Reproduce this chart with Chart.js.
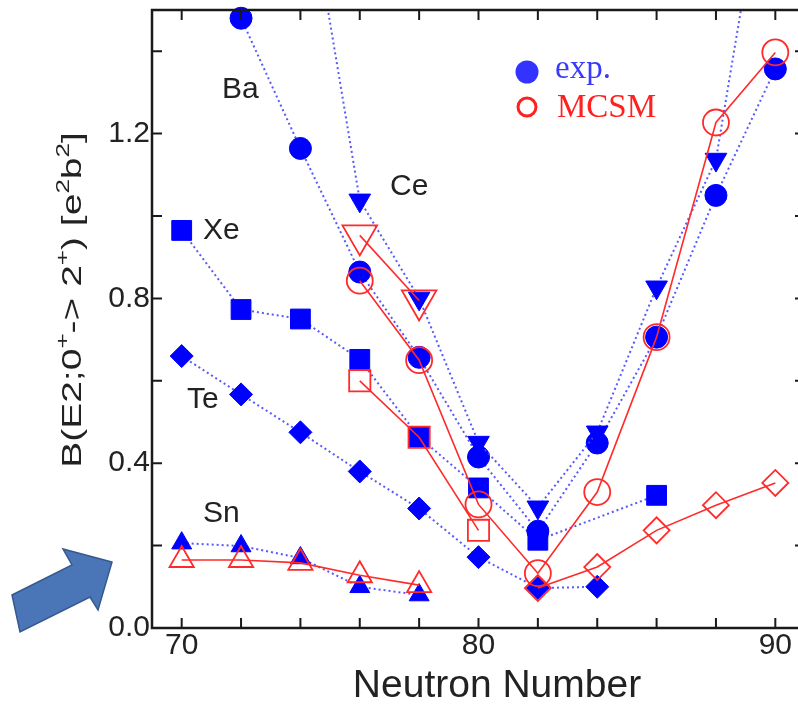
<!DOCTYPE html>
<html>
<head>
<meta charset="utf-8">
<script src="https://cdn.jsdelivr.net/npm/chart.js@4.4.1/dist/chart.umd.min.js"></script>
<style>
  html, body { margin: 0; padding: 0; background: #fff; overflow: hidden; }
  #wrap { width: 798px; height: 704px; overflow: hidden; }
</style>
</head>
<body>
<div id="wrap"><canvas id="be2" width="810" height="704"></canvas></div>
<script>
var neutrons = [70, 72, 74, 76, 78, 80, 82, 84, 86, 88, 90];

// exp. (filled blue symbols)
var snExp = [0.206, 0.199, 0.170, 0.100, 0.080, null, null, null, null, null, null];
var teExp = [0.660, 0.567, 0.475, 0.380, 0.290, 0.172, 0.097, 0.100, null, null, null];
var xeExp = [0.965, 0.773, 0.750, 0.652, 0.463, 0.340, 0.213, null, 0.322, null, null];
var baExp = [null, 1.480, 1.164, 0.864, 0.657, 0.415, 0.235, 0.449, 0.706, 1.050, 1.357];
var ceExp = [null, null, 1.900, 1.038, 0.800, 0.450, 0.293, 0.475, 0.827, 1.137, 2.000];

// MCSM (open red symbols)
var snCalc = [0.165, 0.165, 0.158, 0.128, 0.104, null, null, null, null, null, null];
var teCalc = [null, null, null, null, null, null, 0.097, 0.148, 0.237, 0.298, 0.352];
var xeCalc = [null, null, null, 0.600, 0.463, 0.237, null, null, null, null, null];
var baCalc = [null, null, null, 0.843, 0.650, 0.300, 0.133, 0.330, 0.706, 1.227, 1.397];
var ceCalc = [null, null, null, 0.953, 0.795, null, null, null, null, null, null];

var xTicks = [70, 80, 90];
var yTicks = [0.0, 0.4, 0.8, 1.2];
var xMarks = [70, 72, 74, 76, 78, 80, 82, 84, 86, 88, 90];
var yMarks = [0.0, 0.2, 0.4, 0.6, 0.8, 1.0, 1.2, 1.4];

var elementNames = ["Ba", "Ce", "Xe", "Te", "Sn"];
var elementAt = [[71.36, 1.287], [77.02, 1.05], [70.72, 0.945], [70.18, 0.533], [70.72, 0.257]];

var xTitle = "Neutron Number";
var yTitleParts = [
    {t: "B(E2;0", sup: false}, {t: "+", sup: true}, {t: "-> 2", sup: false}, {t: "+", sup: true},
    {t: ") [e", sup: false}, {t: "2", sup: true}, {t: "b", sup: false}, {t: "2", sup: true}, {t: "]", sup: false}
];

var SANS = '"Liberation Sans", Arial, sans-serif';
var SERIF = '"Liberation Serif", "Times New Roman", serif';

function pts(arr) {
    var out = [];
    for (var i = 0; i < neutrons.length; i++) {
        if (arr[i] !== null) out.push({x: neutrons[i], y: arr[i]});
    }
    return out;
}

function expSet(label, arr, style, r, rot, clip) {
    return {
        label: label, data: pts(arr),
        borderColor: 'rgba(70,70,255,0.9)', borderWidth: 2, borderDash: [2, 3],
        pointStyle: style, pointRadius: r, pointRotation: rot,
        pointBackgroundColor: '#0000ff', pointBorderColor: '#0000ff', pointBorderWidth: 1,
        clip: clip
    };
}

function calcSet(label, arr, style, r, rot) {
    return {
        label: label, data: pts(arr),
        borderColor: '#ff2a2a', borderWidth: 1.6,
        pointStyle: style, pointRadius: r, pointRotation: rot,
        pointBackgroundColor: 'rgba(0,0,0,0)', pointBorderColor: '#ff2a2a', pointBorderWidth: 1.8,
        clip: false
    };
}

var decor = {
    id: 'decor',
    afterDraw: function (chart) {
        var ctx = chart.ctx, a = chart.chartArea;
        var xs = chart.scales.x, ys = chart.scales.y;

        // frame with inward ticks
        ctx.save();
        ctx.strokeStyle = '#1a1a1a';
        ctx.lineWidth = 2.5;
        ctx.strokeRect(a.left, a.top, a.right - a.left, a.bottom - a.top);
        ctx.lineWidth = 2;
        ctx.beginPath();
        xMarks.forEach(function (v) {
            var px = xs.getPixelForValue(v);
            ctx.moveTo(px, a.bottom); ctx.lineTo(px, a.bottom - 10);
            ctx.moveTo(px, a.top); ctx.lineTo(px, a.top + 10);
        });
        yMarks.forEach(function (v) {
            var py = ys.getPixelForValue(v);
            ctx.moveTo(a.left, py); ctx.lineTo(a.left + 10, py);
            ctx.moveTo(a.right, py); ctx.lineTo(a.right - 10, py);
        });
        ctx.stroke();
        ctx.restore();

        // element names
        ctx.save();
        ctx.font = '30px ' + SANS;
        ctx.fillStyle = '#222';
        ctx.textBaseline = 'alphabetic';
        elementNames.forEach(function (n, i) {
            ctx.fillText(n, xs.getPixelForValue(elementAt[i][0]), ys.getPixelForValue(elementAt[i][1]));
        });
        ctx.restore();

        // legend
        ctx.save();
        ctx.fillStyle = '#3333ff';
        ctx.beginPath(); ctx.arc(527, 72, 11.5, 0, Math.PI * 2); ctx.fill();
        ctx.strokeStyle = '#ff2020'; ctx.lineWidth = 3;
        ctx.beginPath(); ctx.arc(527, 107, 9, 0, Math.PI * 2); ctx.stroke();
        ctx.font = '33px ' + SERIF;
        ctx.fillStyle = '#3a3aff';
        ctx.fillText('exp.', 555, 78);
        ctx.fillStyle = '#ff2020';
        ctx.fillText('MCSM', 557, 117);
        ctx.restore();

        // x axis title
        ctx.save();
        ctx.font = '39px ' + SANS;
        ctx.fillStyle = '#222';
        ctx.textAlign = 'center';
        ctx.fillText(xTitle, 497, 697);
        ctx.restore();

        // y axis title with superscripts
        ctx.save();
        ctx.translate(81, 300);
        ctx.rotate(-Math.PI / 2);
        ctx.scale(1, 0.72);
        var big = '39px ' + SANS, small = '26px ' + SANS;
        var total = 0;
        yTitleParts.forEach(function (p) {
            ctx.font = p.sup ? small : big;
            total += ctx.measureText(p.t).width;
        });
        var x = -total / 2;
        ctx.fillStyle = '#222';
        yTitleParts.forEach(function (p) {
            ctx.font = p.sup ? small : big;
            ctx.fillText(p.t, x, p.sup ? -17 : 0);
            x += ctx.measureText(p.t).width;
        });
        ctx.restore();

        // arrow
        ctx.save();
        ctx.fillStyle = '#4a76b8';
        ctx.strokeStyle = '#35598f';
        ctx.lineWidth = 1.5;
        ctx.beginPath();
        ctx.moveTo(12, 595);
        ctx.lineTo(72, 565);
        ctx.lineTo(63, 549);
        ctx.lineTo(112, 562);
        ctx.lineTo(98, 610);
        ctx.lineTo(90, 597);
        ctx.lineTo(20, 632);
        ctx.closePath();
        ctx.fill();
        ctx.stroke();
        ctx.restore();
    }
};

var ctx = document.getElementById("be2").getContext("2d");
new Chart(ctx, {
    type: 'line',
    plugins: [decor],
    data: {
        datasets: [
            calcSet("Ce MCSM", ceCalc, 'triangle', 20, 180),
            calcSet("Ba MCSM", baCalc, 'circle', 13, 0),
            calcSet("Xe MCSM", xeCalc, 'rect', 15, 0),
            calcSet("Te MCSM", teCalc, 'rectRot', 13, 0),
            calcSet("Sn MCSM", snCalc, 'triangle', 14, 0),
            expSet("Ce exp", ceExp, 'triangle', 12.5, 180, undefined),
            expSet("Ba exp", baExp, 'circle', 11, 0, false),
            expSet("Xe exp", xeExp, 'rect', 14, 0, false),
            expSet("Te exp", teExp, 'rectRot', 11.5, 0, false),
            expSet("Sn exp", snExp, 'triangle', 11.5, 0, false)
        ]
    },
    options: {
        responsive: false,
        animation: false,
        events: [],
        layout: {autoPadding: false, padding: {top: 10, right: 5, left: 0, bottom: 0}},
        plugins: {legend: {display: false}, tooltip: {enabled: false}},
        scales: {
            x: {
                type: 'linear', min: 69, max: 91,
                afterFit: function (s) { s.height = 76; s.paddingLeft = 0; s.paddingRight = 0; },
                afterBuildTicks: function (s) { s.ticks = xMarks.map(function (v) { return {value: v}; }); },
                border: {display: false},
                grid: {display: false, drawTicks: false},
                ticks: {
                    autoSkip: false, maxRotation: 0, padding: 0,
                    color: '#222', font: {size: 30, family: SANS},
                    callback: function (v) { return xTicks.indexOf(v) >= 0 ? String(v) : ''; }
                }
            },
            y: {
                type: 'linear', min: 0, max: 1.5,
                afterFit: function (s) { s.width = 152; s.paddingTop = 0; s.paddingBottom = 0; },
                afterBuildTicks: function (s) { s.ticks = yMarks.map(function (v) { return {value: v}; }); },
                border: {display: false},
                grid: {display: false, drawTicks: false},
                ticks: {
                    autoSkip: false, padding: 2,
                    color: '#222', font: {size: 30, family: SANS},
                    callback: function (v) {
                        for (var i = 0; i < yTicks.length; i++) {
                            if (Math.abs(yTicks[i] - v) < 1e-6) return v.toFixed(1);
                        }
                        return '';
                    }
                }
            }
        }
    }
});
</script>
</body>
</html>
